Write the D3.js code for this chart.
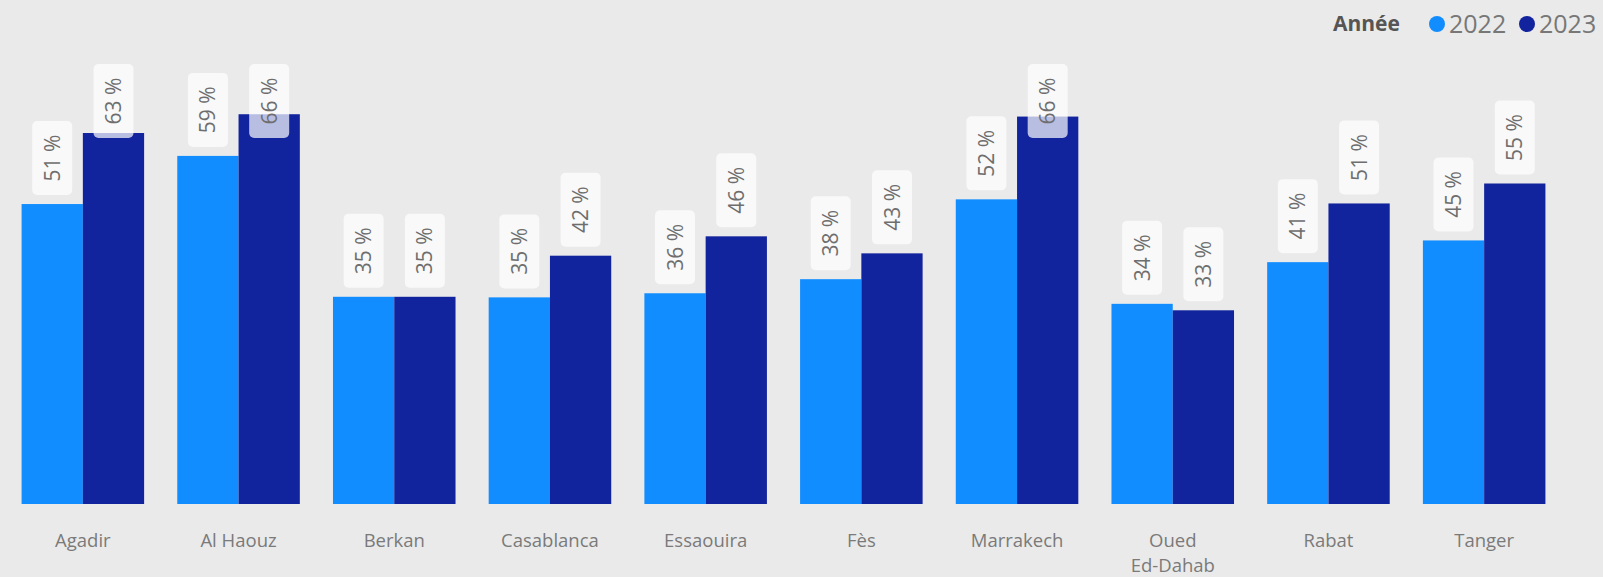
<!DOCTYPE html>
<html>
<head>
<meta charset="utf-8">
<script src="https://cdn.jsdelivr.net/npm/d3@7"></script>
<style>
  html, body { margin: 0; padding: 0; background: #eaeaea; }
  svg { display: block; }
  text { font-family: "Open Sans", "Noto Sans", sans-serif; }
</style>
</head>
<body>
<svg id="chart" width="1603" height="577"></svg>
<script>
// ---- data ----
const categories = ["Agadir", "Al Haouz", "Berkan", "Casablanca", "Essaouira", "Fès", "Marrakech", "Oued Ed-Dahab", "Rabat", "Tanger"];
const seriesNames = ["2022", "2023"];
const values2022 = [0.511, 0.593, 0.353, 0.352, 0.359, 0.383, 0.519, 0.341, 0.412, 0.449];
const values2023 = [0.632, 0.664, 0.353, 0.423, 0.456, 0.427, 0.660, 0.330, 0.512, 0.546];
const legendTitle = "Année";
const colors = ["#118DFF", "#12239E"];

// ---- layout ----
const W = 1603, H = 577;
const svg = d3.select("#chart");
svg.append("rect").attr("width", W).attr("height", H).attr("fill", "#eaeaea");

const baseY = 504, plotTop = 64;
const x = d3.scaleBand().domain(categories).range([5, 1562]).paddingInner(0.213).paddingOuter(0.1065);
const xs = d3.scaleBand().domain(seriesNames).range([0, x.bandwidth()]);
const y = d3.scaleLinear().domain([0, 0.8]).range([baseY, baseY - 5.87 * 80]);
const color = d3.scaleOrdinal().domain(seriesNames).range(colors);

const data = categories.map((c, i) => ({
  cat: c,
  vals: [{ s: "2022", v: values2022[i] }, { s: "2023", v: values2023[i] }]
}));

const groups = svg.append("g").selectAll("g").data(data).join("g")
  .attr("transform", d => `translate(${x(d.cat)},0)`);

groups.selectAll("rect.bar").data(d => d.vals).join("rect")
  .attr("class", "bar")
  .attr("x", d => xs(d.s))
  .attr("width", xs.bandwidth())
  .attr("y", d => y(d.v))
  .attr("height", d => baseY - y(d.v))
  .attr("fill", d => color(d.s));

// data labels
const labelFont = 21, boxW = 40, boxH = 74, gap = 9;
const lab = groups.selectAll("g.lab").data(d => d.vals).join("g").attr("class", "lab")
  .attr("transform", d => {
    const cx = xs(d.s) + xs.bandwidth() / 2;
    const top = Math.max(plotTop, y(d.v) - gap - boxH);
    return `translate(${cx},${top})`;
  });
lab.append("rect")
  .attr("x", -boxW / 2).attr("y", 0).attr("width", boxW).attr("height", boxH)
  .attr("rx", 5).attr("fill", "#ffffff").attr("fill-opacity", 0.7);
lab.append("text")
  .attr("transform", `translate(0,${boxH / 2}) rotate(-90)`)
  .attr("text-anchor", "middle").attr("dy", "0.36em")
  .attr("font-size", labelFont).attr("fill", "#6e6e6e")
  .text(d => Math.round(d.v * 100) + " %");

// x axis
const xAxis = svg.append("g").attr("transform", `translate(0,${baseY})`)
  .call(d3.axisBottom(x).tickSize(0).tickPadding(0));
xAxis.select(".domain").remove();
xAxis.selectAll("text").remove();
const axisFont = 18.5, lineH = 25.5, firstY = 42.5;
xAxis.selectAll(".tick").each(function (c) {
  const g = d3.select(this);
  // wrap words into lines within the band width
  const probe = g.append("text").attr("font-size", axisFont);
  const words = c.split(" ");
  let lines = [], line = [];
  words.forEach(w => {
    line.push(w);
    probe.text(line.join(" "));
    if (probe.node().getComputedTextLength() > x.bandwidth() && line.length > 1) {
      line.pop(); lines.push(line.join(" ")); line = [w];
    }
  });
  lines.push(line.join(" "));
  probe.remove();
  lines.forEach((l, i) => g.append("text").attr("text-anchor", "middle")
    .attr("font-size", axisFont).attr("fill", "#7a7a7a")
    .attr("y", firstY + i * lineH).text(l));
});

// legend
const leg = svg.append("g").attr("transform", "translate(0,24)");
leg.append("text").attr("x", 1333).attr("dy", "0.35em").attr("font-size", 21)
  .attr("font-weight", "bold").attr("fill", "#555555").text(legendTitle);
const legX = [1437, 1527];
seriesNames.forEach((s, i) => {
  leg.append("circle").attr("cx", legX[i]).attr("cy", 0).attr("r", 8).attr("fill", color(s));
  leg.append("text").attr("x", legX[i] + 12).attr("dy", "0.35em").attr("font-size", 25)
    .attr("fill", "#777777").text(s);
});
</script>
</body>
</html>
